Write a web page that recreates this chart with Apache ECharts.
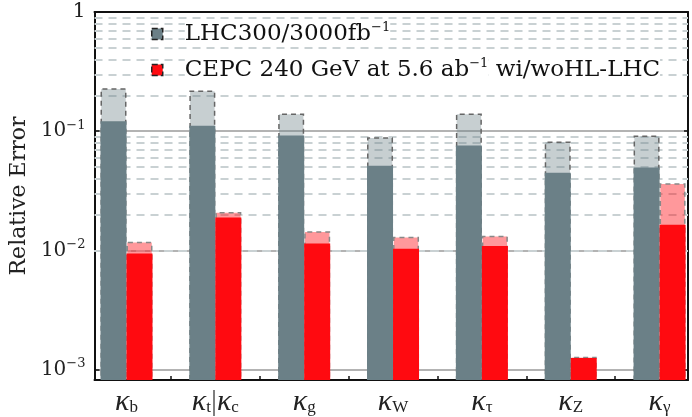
<!DOCTYPE html>
<html lang="en">
<head>
<meta charset="UTF-8">
<script src="https://cdn.jsdelivr.net/npm/echarts@6/dist/echarts.min.js"></script>
<style>
  html, body { margin: 0; padding: 0; background: #fff; }
  #main { width: 692px; height: 417px; }
</style>
</head>
<body>
<div id="main"></div>
<script>
// couplings (subscripts of kappa), left to right
const couplings = ['b', 't|c', 'g', 'W', 'τ', 'Z', 'γ'];
// relative errors
const lhc300 = [0.229, 0.220, 0.141, 0.0891, 0.141, 0.082, 0.0919];
const lhc3000 = [0.121, 0.111, 0.0919, 0.0512, 0.0759, 0.0448, 0.0496];
const cepcAlone = [0.0118, 0.0210, 0.0145, 0.0130, 0.0133, 0.00128, 0.0365];
const cepcWithHL = [0.00944, 0.0189, 0.0114, 0.0103, 0.0109, 0.00125, 0.0164];
// y axis: decades shown, plus dashed minor lines
const decades = [-3, -2, -1];
const yMin = 0.000818, yMax = 1;

const SERIF = 'DejaVu Serif';
const TIMES = 'Liberation Serif';
const slate = '#6b8087';
const red = '#ff0a10';

const xMin = -0.36, xMax = 6.32;
const halfBar = 0.1455;

const tickVals = [];
couplings.forEach((c, i) => {
  tickVals.push(i - halfBar, i + halfBar);
  if (i < couplings.length - 1) tickVals.push(i + 0.5);
});

const minorLines = [];
decades.forEach(e => {
  for (let m = 2; m <= 9; m++) minorLines.push({ yAxis: m * Math.pow(10, e) });
});

const pts = arr => arr.map((v, i) => [i, v]);

const chart = echarts.init(document.getElementById('main'));

function kappaLabel(v) {
  const i = Math.round(v);
  const sub = couplings[i];
  if (sub === undefined) return '';
  if (sub.indexOf('|') >= 0) {
    const p = sub.split('|');
    return '{k|κ}{s|' + p[0] + '}{p||}{k|κ}{s|' + p[1] + '}';
  }
  return '{k|κ}{s|' + sub + '}';
}

function yLabel(v) {
  const l = Math.log10(v);
  const e = Math.round(l);
  if (Math.abs(l - e) > 1e-6) return '';
  if (e === 0) return '{b|1}';
  return '{b|10}{s|−' + (-e) + '}';
}

const legendNames = {
  LHC: '{g|}{t|LHC300/3000fb}{s|−1}',
  CEPC: '{g|}{t|CEPC 240 GeV at 5.6 ab}{s|−1}{t| wi/woHL-LHC}'
};

chart.setOption({
  animation: false,
  grid: { left: 91, right: 4, top: 12, bottom: 34 },
  legend: {
    orient: 'vertical',
    left: 146,
    top: 14,
    itemGap: 6,
    itemWidth: 11,
    itemHeight: 11,
    icon: 'rect',
    selectedMode: false,
    data: [
      { name: 'LHC', itemStyle: { color: slate, borderColor: '#222', borderWidth: 1.5, borderType: 'dashed' } },
      { name: 'CEPC', itemStyle: { color: red, borderColor: '#222', borderWidth: 1.5, borderType: 'dashed' } }
    ],
    formatter: name => legendNames[name],
    textStyle: {
      fontFamily: SERIF,
      fontSize: 23,
      color: '#111',
      lineHeight: 30,
      rich: {
        g: { width: 17 },
        t: { fontFamily: SERIF, fontSize: 23, color: '#111', backgroundColor: '#fff' },
        s: { fontFamily: SERIF, fontSize: 13, color: '#111', backgroundColor: '#fff', padding: [0, 0, 13, 0] }
      }
    }
  },
  xAxis: [
    {
      type: 'value', min: xMin, max: xMax, position: 'bottom',
      axisLine: { onZero: false, lineStyle: { color: '#111', width: 2 } },
      axisTick: { inside: true, length: 4, customValues: tickVals, lineStyle: { color: '#111', width: 1.5 } },
      axisLabel: {
        customValues: couplings.map((c, i) => i),
        formatter: kappaLabel,
        margin: 7,
        rich: {
          k: { fontFamily: TIMES, fontStyle: 'italic', fontSize: 30, color: '#222' },
          s: { fontFamily: TIMES, fontSize: 17, color: '#222', padding: [12, 0, 0, 0] },
          p: { fontFamily: TIMES, fontSize: 30, color: '#555' }
        }
      },
      splitLine: { show: false }
    },
    {
      type: 'value', min: xMin, max: xMax, position: 'top',
      axisLine: { onZero: false, lineStyle: { color: '#111', width: 2 } },
      axisTick: { show: false },
      axisLabel: { show: false },
      splitLine: { show: false }
    }
  ],
  yAxis: [
    {
      type: 'log', min: yMin, max: yMax, startValue: yMin,
      name: 'Relative Error',
      nameLocation: 'middle',
      nameGap: 57,
      nameTextStyle: { fontFamily: SERIF, fontSize: 22, color: '#222' },
      axisLine: { show: true, onZero: false, lineStyle: { color: '#111', width: 2 } },
      axisTick: { inside: true, length: 5, lineStyle: { color: '#111', width: 1.5 } },
      axisLabel: {
        formatter: yLabel,
        margin: 9,
        rich: {
          b: { fontFamily: SERIF, fontSize: 20, color: '#222' },
          s: { fontFamily: SERIF, fontSize: 13, color: '#222', padding: [0, 0, 12, 0] }
        }
      },
      splitLine: { show: true, lineStyle: { color: '#9a9a9a', width: 1.5 } }
    },
    {
      type: 'log', min: yMin, max: yMax, position: 'right',
      axisLine: { show: true, onZero: false, lineStyle: { color: '#111', width: 2 } },
      axisTick: { inside: true, length: 4, lineStyle: { color: '#111', width: 1.5 } },
      axisLabel: { show: false },
      splitLine: { show: false }
    }
  ],
  series: [
    {
      name: 'LHC', type: 'bar', xAxisIndex: 0, z: 2,
      barWidth: 26, barGap: '0%',
      data: pts(lhc300),
      itemStyle: { color: 'rgba(107,128,135,0.38)', borderColor: '#666', borderWidth: 1.5, borderType: [5, 4] },
      markLine: {
        z: 1, silent: true, symbol: 'none', label: { show: false },
        lineStyle: { color: '#c9d1d3', width: 2, type: [8, 6] },
        data: minorLines
      }
    },
    {
      name: 'CEPC', type: 'bar', xAxisIndex: 0, z: 2,
      barWidth: 26, barGap: '0%',
      data: pts(cepcAlone),
      itemStyle: { color: 'rgba(255,10,16,0.42)', borderColor: '#888', borderWidth: 1.5, borderType: [5, 4] }
    },
    {
      name: 'LHC', type: 'bar', xAxisIndex: 1, z: 3,
      barWidth: 26, barGap: '0%',
      data: pts(lhc3000),
      itemStyle: { color: slate, borderColor: slate, borderWidth: 1.5 }
    },
    {
      name: 'CEPC', type: 'bar', xAxisIndex: 1, z: 3,
      barWidth: 26, barGap: '0%',
      data: pts(cepcWithHL),
      itemStyle: { color: red, borderColor: red, borderWidth: 1.5 }
    }
  ]
});
</script>
</body>
</html>
